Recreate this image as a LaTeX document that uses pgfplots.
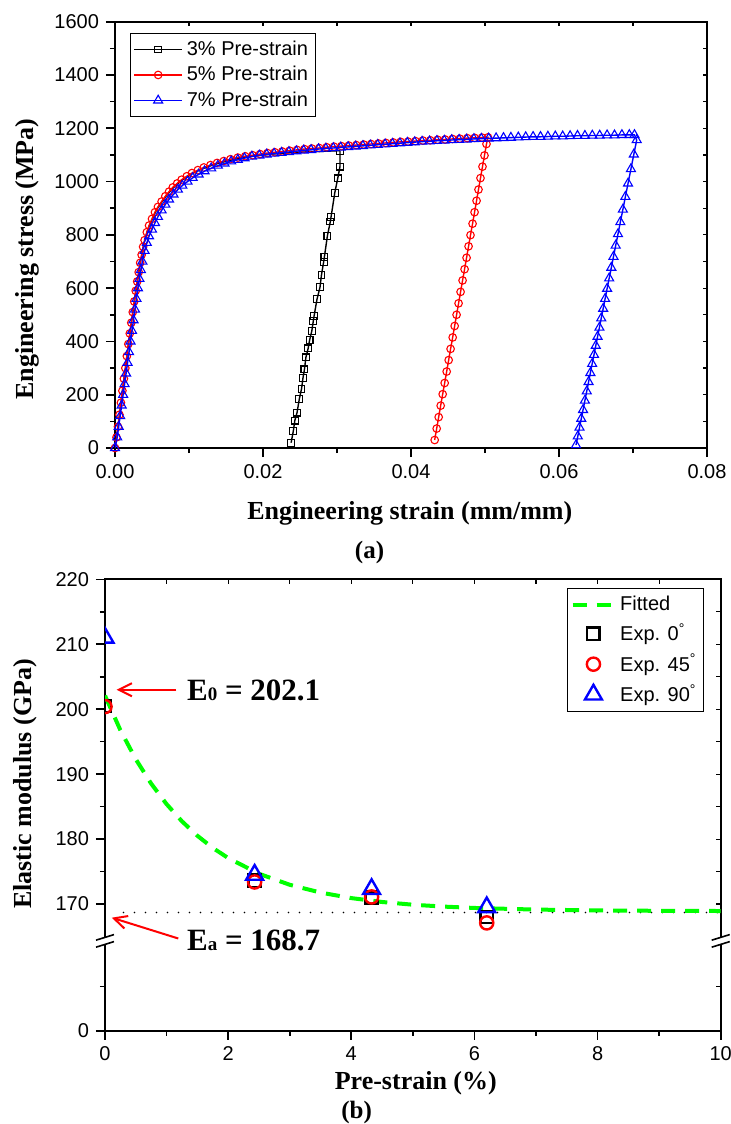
\documentclass[border=0pt]{standalone}
\usepackage{fontspec}
\setmainfont{Liberation Serif}
\setsansfont{Liberation Sans}
\usepackage{pgfplots}
\usepackage{pgfplotstable}
\pgfplotsset{compat=1.18}
\usetikzlibrary{arrows.meta}
\definecolor{pgreen}{RGB}{0,255,0}
\definecolor{pred}{RGB}{255,0,0}
\definecolor{pblue}{RGB}{0,0,255}

\pgfplotstableread{
x y
0 0
0.0002 37
0.0004 77
0.0006 122
0.0008 167
0.0010 212
0.0012 257
0.0014 297
0.0016 342
0.0018 387
0.0020 427
0.0022 467
0.0024 507
0.0026 547
0.0028 587
0.0030 622
0.0032 657
0.0034 692
0.0036 722
0.0038 752
0.0040 777
0.0043 807
0.0046 832
0.0050 857
0.0054 882
0.0058 902
0.0063 922
0.0068 942
0.0073 959
0.0078 975
0.0084 990
0.0090 1004
0.0097 1017
0.0104 1029
0.0112 1040
0.0120 1050
0.0129 1059
0.0138 1067
0.0147 1074
0.0156 1080
0.0166 1086
0.0176 1091
0.0186 1095
0.0196 1098
0.0206 1101
0.0216 1104
0.0226 1106
0.0236 1108
0.0246 1110
0.0256 1111
0.0266 1112
0.0276 1113
0.0286 1114
0.0296 1115
0.0304 1116
}\blackload

\pgfplotstableread{
x y
0.0304 1116
0.0304 1056
0.0301 1012
0.0297 958
0.0292 868
0.0291 850
0.0287 796
0.0283 718
0.0282 699
0.0279 649
0.0277 603
0.0273 559
0.0269 495
0.0268 477
0.0266 440
0.0263 405
0.0261 374
0.0258 340
0.0256 295
0.0254 262
0.0252 221
0.0249 183
0.0246 133
0.0243 103
0.0241 64
0.0238 20
}\blackunload

\pgfplotstableread{
x y
0.0000 0
0.0002 40
0.0004 80
0.0006 125
0.0008 170
0.0010 215
0.0012 260
0.0014 300
0.0016 345
0.0018 390
0.0020 430
0.0022 470
0.0024 510
0.0026 550
0.0028 590
0.0030 625
0.0032 660
0.0034 695
0.0036 725
0.0038 755
0.0040 780
0.0043 810
0.0046 835
0.0050 860
0.0054 885
0.0058 905
0.0063 925
0.0068 945
0.0073 962
0.0078 978
0.0084 993
0.0090 1007
0.0097 1020
0.0104 1032
0.0112 1043
0.0120 1053
0.0129 1062
0.0138 1070
0.0147 1077
0.0156 1084
0.0166 1090
0.0176 1095
0.0186 1099
0.0196 1103
0.0206 1107
0.0216 1110
0.0226 1113
0.0236 1116
0.0246 1119
0.0256 1122
0.0266 1124
0.0276 1126
0.0286 1129
0.0296 1131
0.0306 1133
0.0316 1135
0.0326 1137
0.0336 1139
0.0346 1141
0.0356 1143
0.0366 1145
0.0376 1147
0.0386 1149
0.0396 1150
0.0406 1152
0.0416 1154
0.0426 1155
0.0436 1157
0.0446 1158
0.0456 1160
0.0466 1161
0.0476 1163
0.0486 1164
0.0496 1165
0.0504 1166
0.05020 1141
0.04993 1098
0.04966 1056
0.04939 1013
0.04912 970
0.04886 928
0.04859 885
0.04832 842
0.04804 799
0.04778 757
0.04751 714
0.04724 671
0.04697 629
0.04670 586
0.04643 543
0.04616 500
0.04590 458
0.04563 415
0.04535 372
0.04509 330
0.04482 287
0.04455 244
0.04428 202
0.04401 159
0.04374 116
0.04347 73
0.04320 30
}\redtab

\pgfplotstableread{
x y
0.0000 0
0.0003 40
0.0005 80
0.0007 120
0.0009 160
0.0011 200
0.0013 240
0.0015 280
0.0017 320
0.0019 360
0.0021 400
0.0023 440
0.0025 480
0.0027 520
0.0029 560
0.0031 600
0.0033 635
0.0035 668
0.0037 700
0.0040 740
0.0043 770
0.0046 795
0.0050 820
0.0054 845
0.0058 868
0.0063 892
0.0068 914
0.0073 933
0.0079 952
0.0085 970
0.0091 985
0.0098 1000
0.0105 1014
0.0113 1027
0.0121 1039
0.0130 1050
0.0139 1060
0.0148 1068
0.0157 1076
0.0166 1082
0.0175 1088
0.0185 1094
0.0195 1098
0.0205 1102
0.0215 1105
0.0225 1108
0.0235 1111
0.0245 1114
0.0255 1117
0.0265 1119
0.0275 1122
0.0285 1124
0.0295 1126
0.0305 1128
0.0315 1130
0.0325 1132
0.0335 1134
0.0345 1136
0.0355 1138
0.0365 1140
0.0375 1142
0.0385 1144
0.0395 1146
0.0405 1148
0.0415 1150
0.0425 1151
0.0435 1153
0.0445 1154
0.0455 1156
0.0465 1157
0.0475 1158
0.0485 1160
0.0495 1161
0.0505 1162
0.0515 1163
0.0525 1164
0.0535 1165
0.0545 1166
0.0555 1167
0.0565 1168
0.0575 1168
0.0585 1169
0.0595 1170
0.0605 1170
0.0615 1171
0.0625 1172
0.0635 1172
0.0645 1173
0.0655 1173
0.0665 1174
0.0675 1174
0.0685 1175
0.0695 1175
0.0702 1175
0.07050 1156
0.07011 1102
0.06972 1047
0.06933 993
0.06897 943
0.06863 895
0.06829 848
0.06797 803
0.06766 760
0.06736 718
0.06707 677
0.06678 637
0.06650 598
0.06623 560
0.06597 523
0.06571 487
0.06546 452
0.06521 418
0.06497 384
0.06473 350
0.06448 316
0.06424 282
0.06400 248
0.06375 213
0.06350 178
0.06325 143
0.06301 110
0.06277 77
0.06254 44
0.06230 11
}\bluetab

\pgfplotstableread{
x y
0 202.1
0.25 196.77
0.5 192.30
0.75 188.54
1.0 185.39
1.25 182.74
1.5 180.52
1.75 178.65
2.0 177.09
2.5 174.67
3.0 172.97
3.5 171.77
4.0 170.92
4.5 170.32
5.0 169.90
5.5 169.61
6.0 169.40
7.0 169.15
8.0 169.02
9.0 168.96
10 168.93
}\fittab

\pgfplotstableread{
x y
0 200.5
2.43 173.6
4.33 171.0
6.2 168.0
}\expzero

\pgfplotstableread{
x y
0 200.4
2.43 173.4
4.33 171.1
6.2 167.1
}\expfortyfive

\pgfplotstableread{
x y
0 211.0
2.43 174.5
4.33 172.3
6.2 169.5
}\expninety

\pgfplotsset{
  common/.style={
    scale only axis,
    axis line style={line width=1pt},
    tick style={line width=0.8pt, black},
    tick align=outside,
    tick pos=left,
    major tick length=4.5pt,
    minor tick length=2.5pt,
    scaled ticks=false,
    tick label style={font=\sffamily\fontsize{10}{12}\selectfont},
    /pgf/number format/assume math mode=true,
    legend cell align=left,
    clip mode=individual,
  },
  mirror/.style={
    scale only axis,
    axis x line*=top, axis y line*=right,
    axis line style={draw=none},
    tick align=inside,
    major tick length=2.2pt,
    minor tick length=2.2pt,
    tick style={line width=0.6pt, black},
    xticklabels={}, yticklabels={},
    scaled ticks=false,
    clip=false,
  }
}

\begin{document}
\begin{tikzpicture}

% ---------- (a) ----------
\begin{axis}[common,
  at={(57.5pt,-10.85pt)}, anchor=north west,
  width=296pt, height=213.15pt,
  xmin=0, xmax=0.08, ymin=0, ymax=1600,
  xtick={0,0.02,0.04,0.06,0.08}, xticklabels={0.00,0.02,0.04,0.06,0.08},
  minor xtick={0.01,0.03,0.05,0.07},
  ytick={0,200,400,600,800,1000,1200,1400,1600},
  yticklabels={0,200,400,600,800,1000,1200,1400,1600},
  minor ytick={100,300,500,700,900,1100,1300,1500},
  xlabel={Engineering strain (mm/mm)},
  ylabel={Engineering stress (MPa)},
  every axis x label/.style={at={(axis description cs:0.498,-0.1673)}, anchor=base, font=\bfseries\fontsize{13}{15}\selectfont},
  every axis y label/.style={at={(axis description cs:-0.1385,0.4433)}, rotate=90, anchor=base, font=\bfseries\fontsize{13}{15}\selectfont},
  legend style={at={(axis description cs:0.0253,0.973)}, anchor=north west,
    draw=black, line width=0.5pt, font=\sffamily\fontsize{10}{12}\selectfont,
    inner sep=1.5pt, row sep=0pt},
  legend image code/.code={\draw[mark repeat=2,mark phase=2,#1] plot coordinates {(0pt,0pt)(12pt,0pt)(24pt,0pt)};},
]
\addplot[black, line width=0.7pt, forget plot] table {\blackload};
\addplot[black, line width=0.7pt, mark=square, mark size=1.7pt, mark options={solid, line width=0.55pt}] table {\blackunload};
\addlegendentry{3\% Pre-strain}
\addplot[pred, line width=0.7pt, mark=o, mark size=1.9pt, mark options={solid, line width=0.55pt}] table {\redtab};
\addlegendentry{5\% Pre-strain}
\addplot[pblue, line width=0.7pt, mark=triangle, mark size=2.6pt, mark options={solid, line width=0.55pt}] table {\bluetab};
\addlegendentry{7\% Pre-strain}
\node[anchor=base, font=\bfseries\fontsize{12.5}{14}\selectfont] at (axis description cs:0.4299,-0.2587) {(a)};
\end{axis}

\begin{axis}[mirror,
  at={(57.5pt,-10.85pt)}, anchor=north west,
  width=296pt, height=213.15pt,
  xmin=0, xmax=0.08, ymin=0, ymax=1600,
  xtick={0,0.01,0.02,0.03,0.04,0.05,0.06,0.07,0.08},
  ytick={0,100,200,300,400,500,600,700,800,900,1000,1100,1200,1300,1400,1500,1600},
]
\end{axis}

% ---------- (b) ----------
\begin{axis}[common,
  at={(52.5pt,-289.65pt)}, anchor=north west,
  width=307.85pt, height=225.7pt,
  xmin=0, xmax=10, ymin=150.5, ymax=220,
  xtick={0,2,4,6,8,10}, minor xtick={1,3,5,7,9},
  ytick={150.5,170,180,190,200,210,220},
  yticklabels={0,170,180,190,200,210,220},
  minor ytick={157.3,175,185,195,205,215},
  xlabel={Pre-strain (\%)},
  ylabel={Elastic modulus (GPa)},
  every axis x label/.style={at={(axis description cs:0.5048,-0.1298)}, anchor=base, font=\bfseries\fontsize{13}{15}\selectfont},
  every axis y label/.style={at={(axis description cs:-0.119,0.5465)}, rotate=90, anchor=base, font=\bfseries\fontsize{13}{15}\selectfont},
  clip marker paths=true,
  legend style={at={(axis description cs:0.9729,0.980)}, anchor=north east,
    draw=black, line width=0.5pt, font=\sffamily\fontsize{10}{12}\selectfont,
    inner sep=1.5pt, row sep=1.2pt},
  legend image code/.code={\draw[mark repeat=2,mark phase=2,#1] plot coordinates {(0pt,0pt)(10.4pt,0pt)(20.8pt,0pt)};},
]
\addplot[black, line width=0.9pt, line cap=round, dash pattern=on 0pt off 5.5pt, forget plot] coordinates {(0.3,168.7) (10,168.7)};
\addplot[pgreen, line width=2pt, dash pattern=on 7pt off 5pt] table {\fittab};
\addlegendentry{Fitted}
\addplot[only marks, black, mark=square, mark size=3.1pt, mark options={line width=1.2pt}] table {\expzero};
\addlegendentry{Exp. 0\textsuperscript{°}}
\addplot[only marks, pred, mark=o, mark size=3.3pt, mark options={line width=1.2pt}] table {\expfortyfive};
\addlegendentry{Exp. 45\textsuperscript{°}}
\addplot[only marks, pblue, mark=triangle, mark size=4.9pt, mark options={line width=1.2pt}] table {\expninety};
\addlegendentry{Exp. 90\textsuperscript{°}}

\draw[pred, line width=1pt, -{Straight Barb[length=6.5pt,width=6.5pt]}] (axis cs:1.16,203) -- (axis cs:0.19,203);
\draw[pred, line width=1pt, -{Straight Barb[length=6.5pt,width=6.5pt]}] (axis cs:1.19,164.7) -- (axis cs:0.11,167.9);
\node[anchor=base west, inner sep=0pt, font=\bfseries\fontsize{15.5}{18}\selectfont] at (axis cs:1.327,201.3) {E{\fontsize{9.5}{10}\selectfont 0} = 202.1};
\node[anchor=base west, inner sep=0pt, font=\bfseries\fontsize{15.5}{18}\selectfont] at (axis cs:1.327,162.9) {E{\fontsize{9.5}{10}\selectfont a} = 168.7};
\node[anchor=base, font=\bfseries\fontsize{12.5}{14}\selectfont] at (axis description cs:0.4088,-0.1941) {(b)};
\end{axis}

\begin{axis}[mirror,
  at={(52.5pt,-289.65pt)}, anchor=north west,
  width=307.85pt, height=225.7pt,
  xmin=0, xmax=10, ymin=150.5, ymax=220,
  xtick={0,1,2,3,4,5,6,7,8,9,10},
  ytick={150.5,157.3,170,175,180,185,190,195,200,205,210,215,220},
]
% axis break on both sides
\fill[white] ([xshift=-2pt]axis cs:0,164.87) rectangle ([xshift=2pt]axis cs:0,163.79);
\fill[white] ([xshift=-2pt]axis cs:10,164.87) rectangle ([xshift=2pt]axis cs:10,163.79);
\draw[black, line width=0.8pt] ([xshift=-4.5pt,yshift=-1.4pt]axis cs:0,164.87) -- ([xshift=4.5pt,yshift=1.4pt]axis cs:0,164.87);
\draw[black, line width=0.8pt] ([xshift=-4.5pt,yshift=-1.4pt]axis cs:0,163.79) -- ([xshift=4.5pt,yshift=1.4pt]axis cs:0,163.79);
\draw[black, line width=0.8pt] ([xshift=-4.5pt,yshift=-1.4pt]axis cs:10,164.87) -- ([xshift=4.5pt,yshift=1.4pt]axis cs:10,164.87);
\draw[black, line width=0.8pt] ([xshift=-4.5pt,yshift=-1.4pt]axis cs:10,163.79) -- ([xshift=4.5pt,yshift=1.4pt]axis cs:10,163.79);
\end{axis}

\pgfresetboundingbox
\path[use as bounding box] (0pt,0pt) rectangle (365.5pt,-562pt);
\end{tikzpicture}
\end{document}
